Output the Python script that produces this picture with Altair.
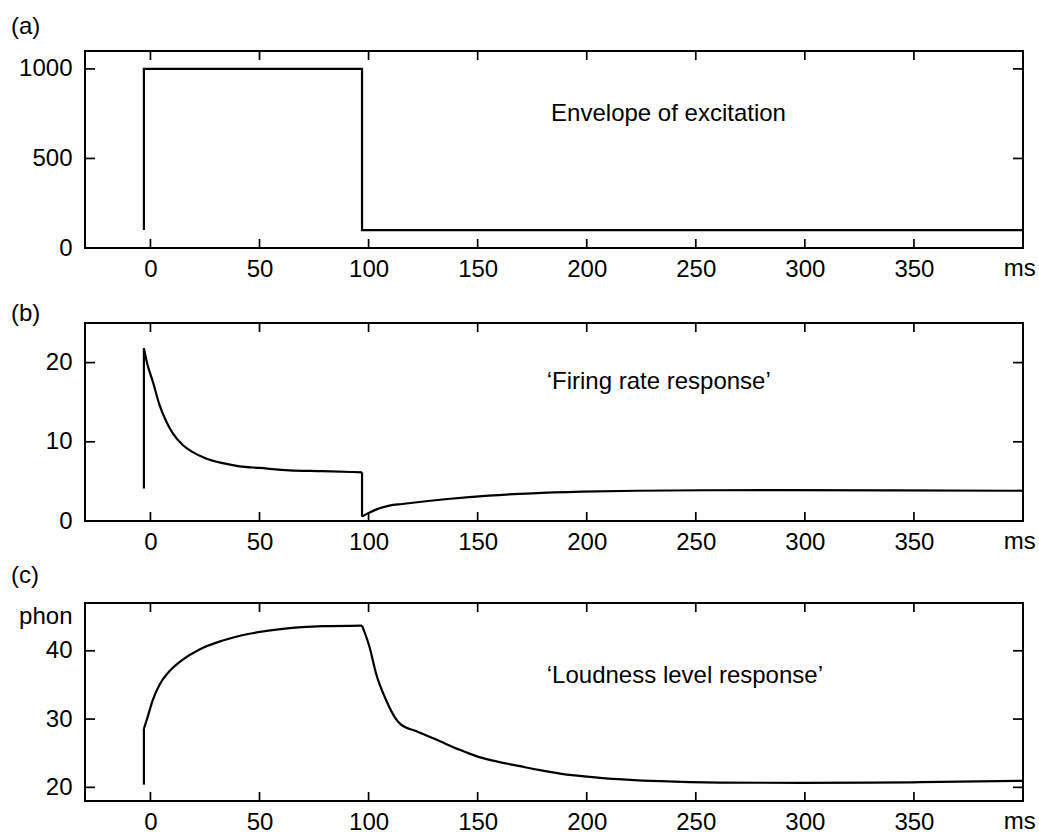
import altair as alt
import pandas as pd

FONT = "Liberation Sans"
INK = "black"
FS = 24

# Shared time axis (ms)
x_domain = [-30, 400]
x_ticks = [0, 50, 100, 150, 200, 250, 300, 350]

# (a) Envelope of excitation
env_t = [-3, -3, 97, 97, 400]
env_v = [100, 1000, 1000, 100, 100]
env_seg = [0, 0, 0, 0, 0]

# (b) Firing rate response: onset jump, adaptation, offset dip, recovery
fr_t = [-3, -3,
        -3, -1.5, 1.1, 4.1, 7.2, 10.2, 14.8, 19.4, 25.5, 33.2, 40.8, 50, 63.7, 79, 97,
        97, 97,
        97, 99.7, 103.7, 109.5, 115.4, 135, 155, 175, 198, 223, 253, 292, 340, 400]
fr_v = [4.1, 21.8,
        21.8, 19.9, 17.6, 14.7, 12.6, 11.1, 9.6, 8.7, 7.9, 7.3, 6.9, 6.7, 6.4, 6.3, 6.15,
        6.15, 0.55,
        0.55, 0.96, 1.47, 1.94, 2.15, 2.75, 3.2, 3.5, 3.7, 3.82, 3.88, 3.9, 3.87, 3.82]
fr_seg = [0, 0,
          1, 1, 1, 1, 1, 1, 1, 1, 1, 1, 1, 1, 1, 1, 1,
          2, 2,
          3, 3, 3, 3, 3, 3, 3, 3, 3, 3, 3, 3, 3, 3]

# (c) Loudness level response (phon): onset jump, build-up, decay
ll_t = [-3, -3,
        -3, -1.2, 1.1, 4.1, 8.7, 14.8, 22.5, 33.2, 45.4, 60.7, 79, 97,
        97, 100.4, 103.4, 108, 112.6, 114.5, 122, 131, 141, 150, 160, 169.4, 178,
        187.8, 206, 234, 261, 298, 330, 353, 400]
ll_v = [20.4, 28.55,
        28.55, 30.4, 32.8, 35.0, 37.0, 38.7, 40.2, 41.5, 42.5, 43.2, 43.6, 43.7,
        43.7, 40.6, 36.7, 32.8, 30.0, 29.3, 28.2, 27.0, 25.6, 24.5, 23.7, 23.1, 22.55,
        22.0, 21.4, 20.9, 20.7, 20.65, 20.68, 20.75, 20.95]
ll_seg = [0, 0,
          1, 1, 1, 1, 1, 1, 1, 1, 1, 1, 1, 1,
          2, 2, 2, 2, 2, 2, 2, 2, 2, 2, 2, 2, 2,
          2, 2, 2, 2, 2, 2, 2, 2]

W = 938
TICK_X = 9
TICK_Y = 10


def panel(t, v, seg, interp, y_domain, y_ticks, y_label_values, label_expr, letter,
          letter_y, note, note_t, note_v, height):
    xenc = alt.X("t:Q", title=None,
                 scale=alt.Scale(domain=x_domain, nice=False, zero=False),
                 axis=alt.Axis(values=x_ticks, ticks=False, domain=False, grid=False,
                               labelPadding=9, labelFontSize=FS, labelFont=FONT,
                               labelColor=INK, format="d"))
    yenc = alt.Y("v:Q", title=None,
                 scale=alt.Scale(domain=y_domain, nice=False, zero=False),
                 axis=alt.Axis(values=y_label_values, labelExpr=label_expr, ticks=False,
                               domain=False, grid=False, labelPadding=13, format="d",
                               labelFontSize=FS, labelFont=FONT, labelColor=INK))

    line = alt.Chart(pd.DataFrame({"t": t, "v": v, "seg": seg})).mark_line(
        color=INK, strokeWidth=2.2, strokeJoin="miter", interpolate=interp
    ).encode(x=xenc, y=yenc, detail="seg:N", order=alt.Order("t:Q"))

    xt = pd.DataFrame({"t": x_ticks})
    yt = pd.DataFrame({"v": y_ticks})
    tick_style = dict(color=INK, strokeWidth=1.7)

    bottom = alt.Chart(xt).mark_rule(**tick_style).encode(
        x=xenc, y=alt.value(height), y2=alt.value(height - TICK_X))
    top = alt.Chart(xt).mark_rule(**tick_style).encode(
        x=xenc, y=alt.value(0), y2=alt.value(TICK_X))
    left = alt.Chart(yt).mark_rule(**tick_style).encode(
        y=yenc, x=alt.value(0), x2=alt.value(TICK_Y))
    right = alt.Chart(yt).mark_rule(**tick_style).encode(
        y=yenc, x=alt.value(W), x2=alt.value(W - TICK_Y))

    text = alt.Chart(pd.DataFrame({"t": [note_t], "v": [note_v], "s": [note]})).mark_text(
        font=FONT, fontSize=FS, color=INK, align="center", baseline="middle"
    ).encode(x=xenc, y=yenc, text="s:N")

    unit = alt.Chart(pd.DataFrame({"t": [398.5], "s": ["ms"]})).mark_text(
        font=FONT, fontSize=FS, color=INK, align="center", baseline="top"
    ).encode(x=xenc, y=alt.value(height + 9), text="s:N")

    tag = alt.Chart(pd.DataFrame({"s": [letter]})).mark_text(
        font=FONT, fontSize=24, color=INK, align="left", baseline="alphabetic"
    ).encode(x=alt.value(-74), y=alt.value(letter_y), text="s:N")

    return alt.layer(line, bottom, top, left, right, text, unit, tag).properties(
        width=W, height=height)


pa = panel(env_t, env_v, env_seg, "linear", [0, 1100], [0, 500, 1000], [0, 500, 1000],
           "datum.label", "(a)", -17, "Envelope of excitation", 237.5, 747, 197)
pb = panel(fr_t, fr_v, fr_seg, "monotone", [0, 25], [0, 10, 20], [0, 10, 20],
           "datum.label", "(b)", -2, "\u2018Firing rate response\u2019", 233, 17.6, 198)
pc = panel(ll_t, ll_v, ll_seg, "monotone", [18, 47], [20, 30, 40], [20, 30, 40, 45],
           "datum.value == 45 ? 'phon' : datum.label",
           "(c)", -20, "\u2018Loudness level response\u2019", 245, 36.25, 198)

chart = alt.vconcat(
    alt.vconcat(pa, pb, spacing=19), pc, spacing=8
).properties(
    padding={"left": 10, "top": 14, "right": 2, "bottom": 0},
    background="white",
).configure_view(
    stroke=INK, strokeWidth=2
)

chart.save("out.html", embed_options={"renderer": "svg", "actions": False})
